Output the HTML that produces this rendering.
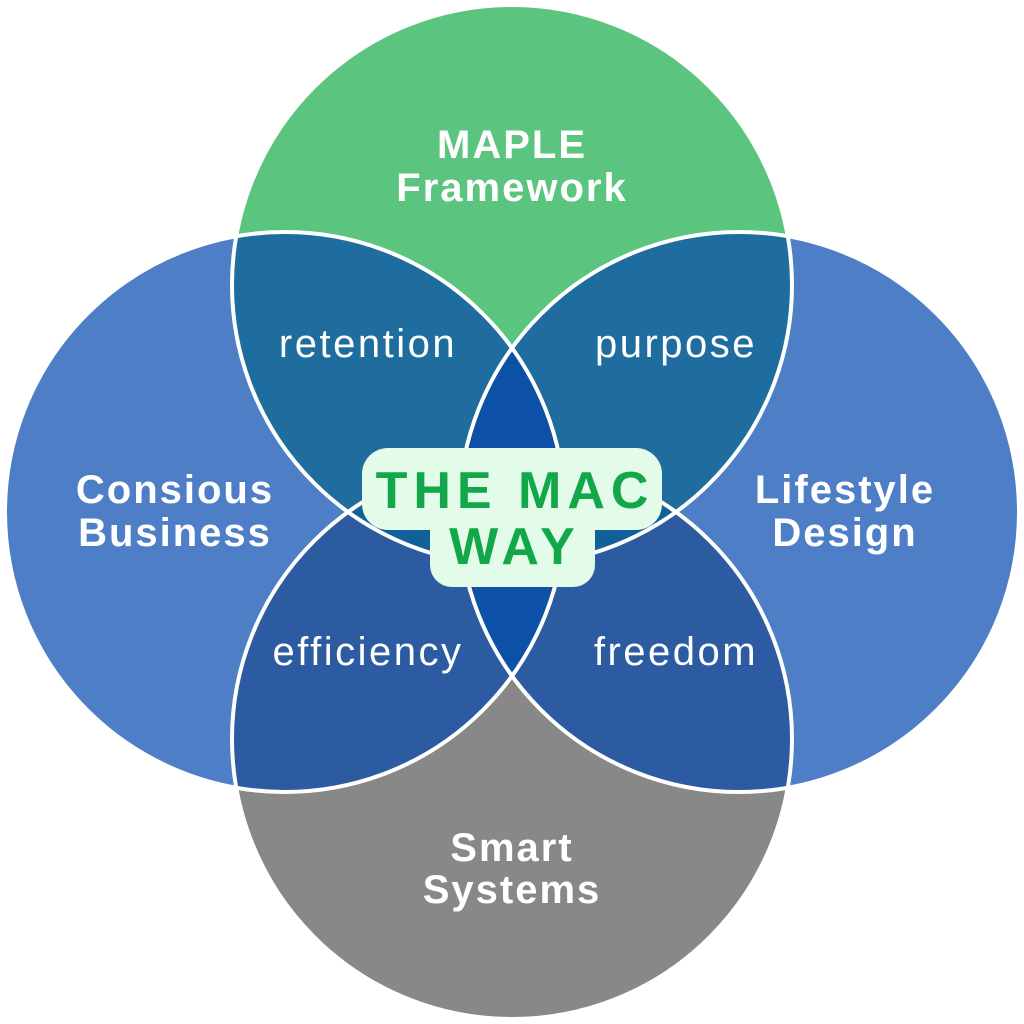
<!DOCTYPE html>
<html><head><style>html,body{margin:0;padding:0;background:#fff}svg{display:block}</style></head>
<body>
<svg width="1024" height="1024" viewBox="0 0 1024 1024" xmlns="http://www.w3.org/2000/svg">
<defs>
<clipPath id="cT"><circle cx="512" cy="285" r="280"/></clipPath>
<clipPath id="cL"><circle cx="285" cy="512" r="280"/></clipPath>
<clipPath id="cR"><circle cx="739" cy="512" r="280"/></clipPath>
<clipPath id="cB"><circle cx="512" cy="739" r="280"/></clipPath>
</defs>
<circle cx="512" cy="285" r="280" fill="#5BC47F"/>
<circle cx="512" cy="739" r="280" fill="#888888"/>
<circle cx="285" cy="512" r="280" fill="#4D7EC6"/>
<circle cx="739" cy="512" r="280" fill="#4D7EC6"/>
<g clip-path="url(#cT)">
<circle cx="285" cy="512" r="280" fill="#1F6C9E"/>
<circle cx="739" cy="512" r="280" fill="#1F6C9E"/>
</g>
<g clip-path="url(#cB)">
<circle cx="285" cy="512" r="280" fill="#2C5BA1"/>
<circle cx="739" cy="512" r="280" fill="#2C5BA1"/>
</g>
<g clip-path="url(#cT)"><circle cx="512" cy="739" r="280" fill="#12609A"/></g>
<g clip-path="url(#cL)"><circle cx="739" cy="512" r="280" fill="#0C50A8"/></g>
<g fill="none" stroke="#fff" stroke-width="4">
<circle cx="512" cy="285" r="280"/>
<circle cx="512" cy="739" r="280"/>
<circle cx="285" cy="512" r="280"/>
<circle cx="739" cy="512" r="280"/>
</g>
<rect x="362" y="448" width="300" height="82" rx="26" fill="#E3FBE9"/>
<rect x="430" y="495" width="165" height="92" rx="22" fill="#E3FBE9"/>
<g font-family="Liberation Sans, sans-serif" text-anchor="middle">
<g fill="#12A84A" font-weight="bold" font-size="52" letter-spacing="6">
<text x="515" y="508">THE MAC</text>
<text x="515" y="564">WAY</text>
</g>
<g fill="#fff" font-weight="bold" font-size="40" letter-spacing="2">
<text x="512" y="158">MAPLE</text>
<text x="512" y="201">Framework</text>
<text x="175" y="503">Consious</text>
<text x="175" y="546">Business</text>
<text x="845" y="503">Lifestyle</text>
<text x="845" y="546">Design</text>
<text x="512" y="861">Smart</text>
<text x="512" y="903">Systems</text>
</g>
<g fill="#fff" font-size="40" letter-spacing="2.5">
<text x="368" y="357">retention</text>
<text x="676" y="357">purpose</text>
<text x="368" y="665">efficiency</text>
<text x="676" y="665">freedom</text>
</g>
</g>
</svg>
</body></html>
